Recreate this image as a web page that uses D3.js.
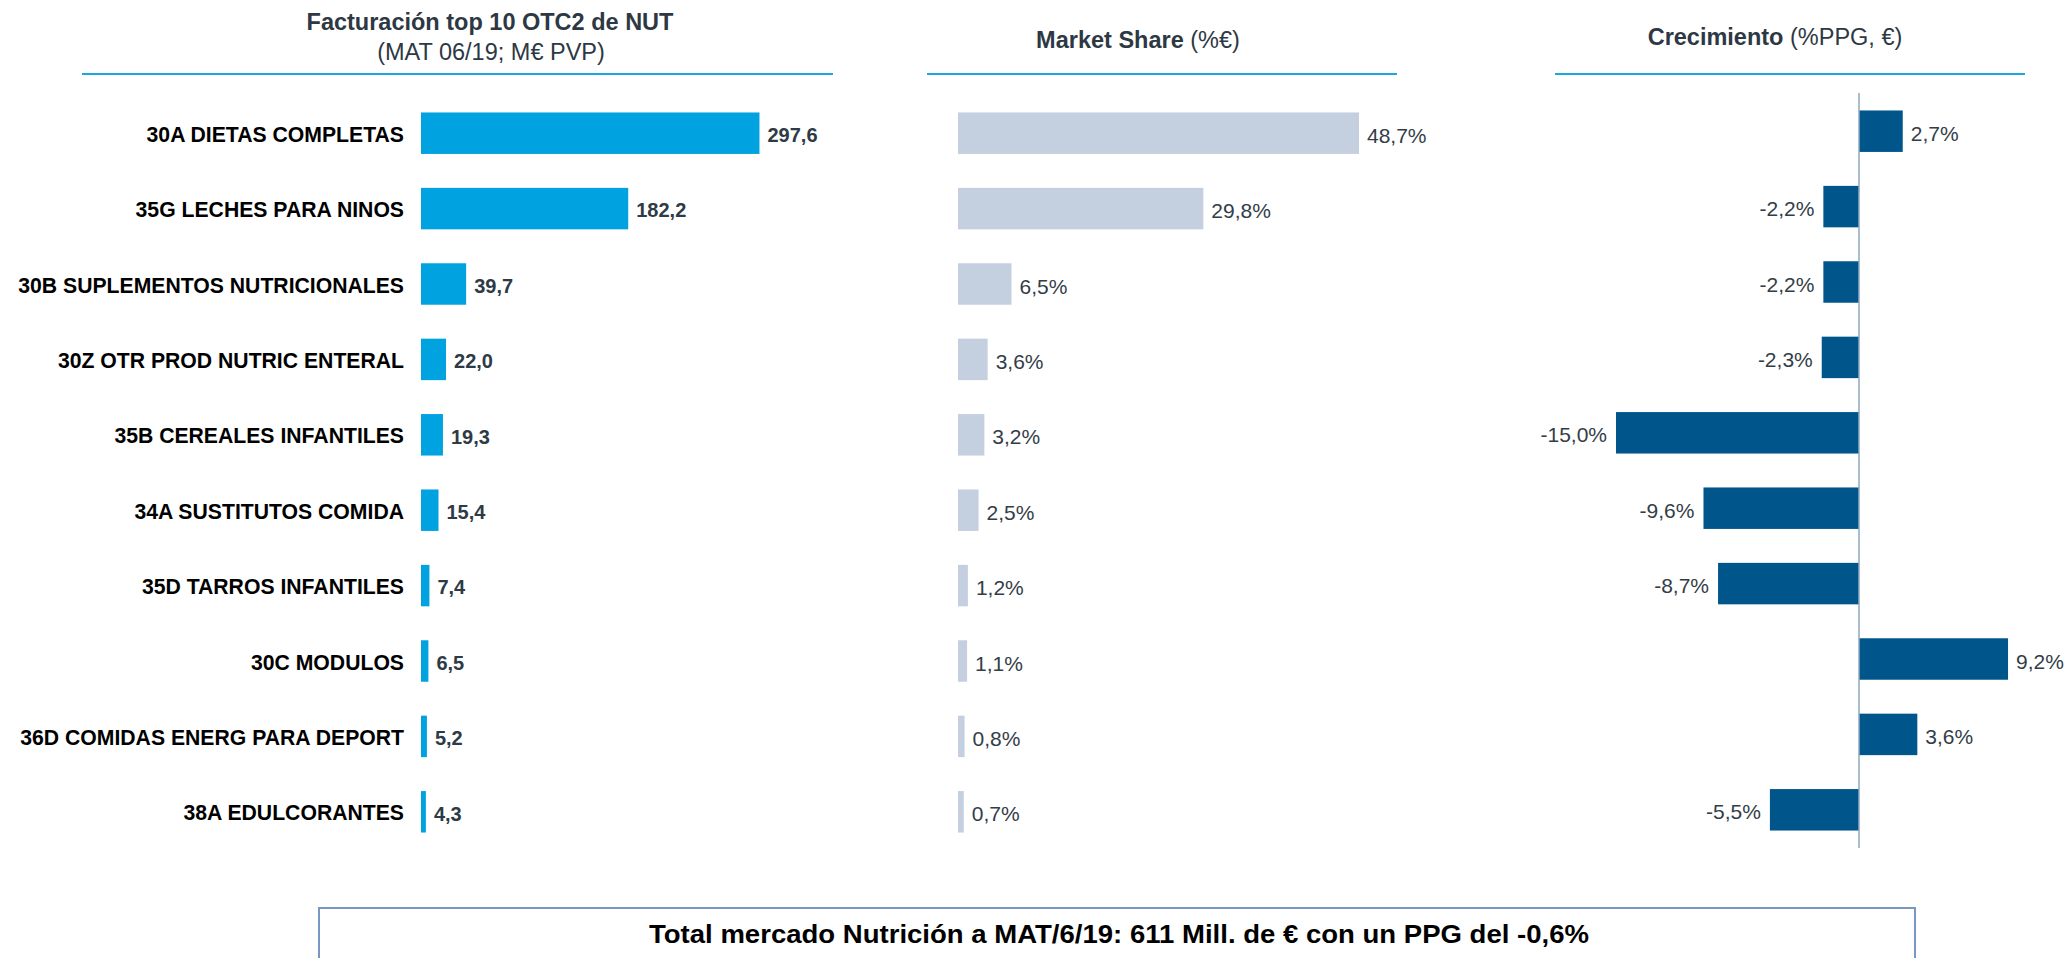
<!DOCTYPE html>
<html>
<head>
<meta charset="utf-8">
<script src="https://cdn.jsdelivr.net/npm/d3@7"></script>
<style>
  html, body { margin: 0; padding: 0; background: #ffffff; }
  svg { display: block; font-family: "Liberation Sans", Arial, sans-serif; }
</style>
</head>
<body>
<svg id="chart" width="2067" height="958"></svg>
<script>
// Top 10 OTC2 categories of the nutrition market
const categories = [
  "30A DIETAS COMPLETAS",
  "35G LECHES PARA NINOS",
  "30B SUPLEMENTOS NUTRICIONALES",
  "30Z OTR PROD NUTRIC ENTERAL",
  "35B CEREALES INFANTILES",
  "34A SUSTITUTOS COMIDA",
  "35D TARROS INFANTILES",
  "30C MODULOS",
  "36D COMIDAS ENERG PARA DEPORT",
  "38A EDULCORANTES"
];
// Sales, M€ PVP (MAT 06/19)
const sales = [297.6, 182.2, 39.7, 22.0, 19.3, 15.4, 7.4, 6.5, 5.2, 4.3];
// Market share, % of €
const share = [48.7, 29.8, 6.5, 3.6, 3.2, 2.5, 1.2, 1.1, 0.8, 0.7];
// Growth, %PPG in €
const growth = [2.7, -2.2, -2.2, -2.3, -15.0, -9.6, -8.7, 9.2, 3.6, -5.5];

const footerText = "Total mercado Nutrición a MAT/6/19: 611 Mill. de € con un PPG del -0,6%";

const fmt = (v, d) => v.toFixed(d).replace(".", ",");

const svg = d3.select("#chart");

const C = {
  salesBar: "#00a3e0",
  shareBar: "#c4cfe0",
  growthBar: "#00568a",
  rule: "#1ba6df",
  axis: "#8ea8c3",
  title: "#2d3844",
  value: "#2e3a45",
  label: "#333d47",
  box: "#7897c2"
};

// shared row scale
const y = d3.scaleBand()
  .domain(categories)
  .range([95.5, 849.5])
  .paddingInner(0.45)
  .paddingOuter(0.225);
const yMid = d => y(d.c) + y.bandwidth() / 2;

const xSales = d3.scaleLinear().domain([0, 300]).range([421, 762.2]);
const xShare = d3.scaleLinear().domain([0, 50]).range([958, 1369.7]);
const xGrowth = d3.scaleLinear().domain([-15, 10]).range([1616, 2021]);

const rows = categories.map((c, i) => ({ c, sales: sales[i], share: share[i], growth: growth[i] }));

// ---- headers ----
const headers = svg.append("g");
function rule(x0, x1) {
  headers.append("line")
    .attr("x1", x0).attr("x2", x1).attr("y1", 74).attr("y2", 74)
    .attr("stroke", C.rule).attr("stroke-width", 2);
}
headers.append("text")
  .attr("x", 490).attr("y", 30).attr("text-anchor", "middle")
  .attr("font-size", 23.5).attr("font-weight", "bold").attr("fill", C.title)
  .text("Facturación top 10 OTC2 de NUT");
headers.append("text")
  .attr("x", 491).attr("y", 60).attr("text-anchor", "middle")
  .attr("font-size", 23.5).attr("fill", C.title)
  .text("(MAT 06/19; M€ PVP)");
rule(82, 833);

const msTitle = headers.append("text")
  .attr("x", 1138).attr("y", 48).attr("text-anchor", "middle")
  .attr("font-size", 23.5).attr("fill", C.title);
msTitle.append("tspan").attr("font-weight", "bold").text("Market Share");
msTitle.append("tspan").text(" (%€)");
rule(927, 1397);

const grTitle = headers.append("text")
  .attr("x", 1775).attr("y", 45).attr("text-anchor", "middle")
  .attr("font-size", 23.5).attr("fill", C.title);
grTitle.append("tspan").attr("font-weight", "bold").text("Crecimiento");
grTitle.append("tspan").text(" (%PPG, €)");
rule(1555, 2025);

// ---- panel 1: sales ----
const p1 = svg.append("g");
p1.selectAll("text.cat").data(rows).join("text")
  .attr("class", "cat")
  .attr("x", 404).attr("y", d => yMid(d) + 1).attr("dy", "0.36em")
  .attr("text-anchor", "end").attr("font-size", 21.2).attr("font-weight", "bold")
  .attr("fill", "#000").text(d => d.c);
p1.selectAll("rect").data(rows).join("rect")
  .attr("x", xSales(0)).attr("y", d => y(d.c))
  .attr("width", d => xSales(d.sales) - xSales(0)).attr("height", y.bandwidth())
  .attr("fill", C.salesBar);
p1.selectAll("text.val").data(rows).join("text")
  .attr("class", "val")
  .attr("x", d => xSales(d.sales) + 8).attr("y", d => yMid(d) + 1.5).attr("dy", "0.36em")
  .attr("font-size", 20).attr("font-weight", "bold").attr("fill", C.value)
  .text(d => fmt(d.sales, 1));

// ---- panel 2: market share ----
const p2 = svg.append("g");
p2.selectAll("rect").data(rows).join("rect")
  .attr("x", xShare(0)).attr("y", d => y(d.c))
  .attr("width", d => xShare(d.share) - xShare(0)).attr("height", y.bandwidth())
  .attr("fill", C.shareBar);
p2.selectAll("text").data(rows).join("text")
  .attr("x", d => xShare(d.share) + 8).attr("y", d => yMid(d) + 2).attr("dy", "0.36em")
  .attr("font-size", 21).attr("fill", C.label)
  .text(d => fmt(d.share, 1) + "%");

// ---- panel 3: growth ----
const p3 = svg.append("g").attr("transform", "translate(0,-2)");
p3.selectAll("rect").data(rows).join("rect")
  .attr("x", d => xGrowth(Math.min(0, d.growth))).attr("y", d => y(d.c))
  .attr("width", d => Math.abs(xGrowth(d.growth) - xGrowth(0))).attr("height", y.bandwidth())
  .attr("fill", C.growthBar);
p3.selectAll("text").data(rows).join("text")
  .attr("x", d => d.growth >= 0 ? xGrowth(d.growth) + 8 : xGrowth(d.growth) - 9)
  .attr("y", d => yMid(d) + 2).attr("dy", "0.36em")
  .attr("text-anchor", d => d.growth >= 0 ? "start" : "end")
  .attr("font-size", 21).attr("fill", C.label)
  .text(d => fmt(d.growth, 1) + "%");
svg.append("line")
  .attr("x1", xGrowth(0)).attr("x2", xGrowth(0)).attr("y1", 93).attr("y2", 848)
  .attr("stroke", C.axis).attr("stroke-width", 1.5);

// ---- footer ----
svg.append("rect")
  .attr("x", 319).attr("y", 908).attr("width", 1596).attr("height", 80)
  .attr("fill", "none").attr("stroke", C.box).attr("stroke-width", 2);
svg.append("text")
  .attr("x", 1119).attr("y", 943).attr("text-anchor", "middle")
  .attr("font-size", 26).attr("font-weight", "bold").attr("fill", "#000")
  .attr("textLength", 940).attr("lengthAdjust", "spacingAndGlyphs")
  .text(footerText);
</script>
</body>
</html>
